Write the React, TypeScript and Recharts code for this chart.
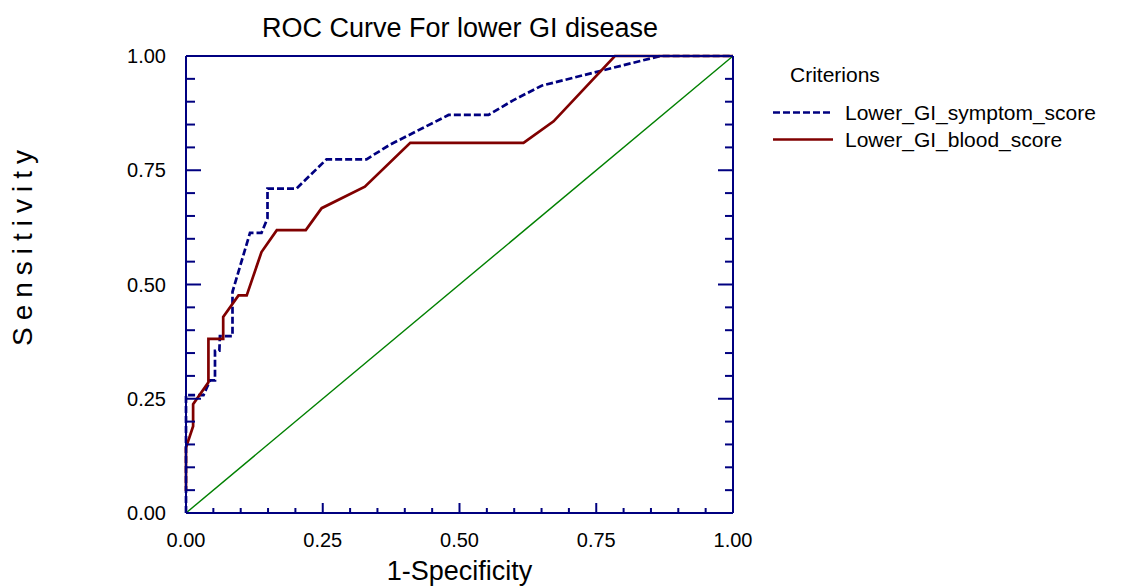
import React from 'react';
import { LineChart, Line, XAxis, YAxis, Legend } from 'recharts';

// ROC points: false positive rate (1-specificity) vs sensitivity
const symptomFpr = [0, 0, 0.032, 0.044, 0.053, 0.053, 0.061, 0.062, 0.085, 0.085, 0.117, 0.138, 0.149, 0.149, 0.202, 0.257, 0.33, 0.373, 0.48, 0.553, 0.598, 0.65, 0.76, 0.867, 1];
const symptomTpr = [0, 0.258, 0.258, 0.29, 0.29, 0.355, 0.355, 0.387, 0.387, 0.484, 0.613, 0.613, 0.645, 0.71, 0.71, 0.774, 0.774, 0.806, 0.871, 0.871, 0.903, 0.935, 0.968, 1, 1];

const bloodFpr = [0, 0, 0.013, 0.013, 0.041, 0.041, 0.068, 0.068, 0.096, 0.111, 0.138, 0.166, 0.219, 0.248, 0.327, 0.41, 0.617, 0.672, 0.784, 1];
const bloodTpr = [0.048, 0.143, 0.19, 0.238, 0.286, 0.381, 0.381, 0.429, 0.476, 0.476, 0.571, 0.619, 0.619, 0.667, 0.714, 0.81, 0.81, 0.857, 1, 1];

const chanceFpr = [0, 1];
const chanceTpr = [0, 1];

const seriesNames = ['Lower_GI_symptom_score', 'Lower_GI_blood_score'];
const legendTitle = 'Criterions';

const majorTicks = [0, 0.25, 0.5, 0.75, 1];
const minorTicks = [0, 0.05, 0.1, 0.15, 0.2, 0.25, 0.3, 0.35, 0.4, 0.45, 0.5, 0.55, 0.6, 0.65, 0.7, 0.75, 0.8, 0.85, 0.9, 0.95, 1];
const tickLabels = ['0.00', '0.25', '0.50', '0.75', '1.00'];

const NAVY = '#000080';
const MAROON = '#800000';
const GREEN = '#008000';
const FONT = '"Liberation Sans", Arial, sans-serif';

const toPoints = (xs: number[], ys: number[]) => xs.map((x, i) => ({ x, y: ys[i] }));

const symptomData = toPoints(symptomFpr, symptomTpr);
const bloodData = toPoints(bloodFpr, bloodTpr);
const chanceData = toPoints(chanceFpr, chanceTpr);

const isMajor = (v: number) => majorTicks.some((m) => Math.abs(m - v) < 1e-9);
const labelOf = (v: number) => tickLabels[majorTicks.findIndex((m) => Math.abs(m - v) < 1e-9)];

// tick marks point into the plot; [minor, major] lengths per side
const tickLen: Record<string, [number, number]> = {
  bottom: [5, 10],
  top: [6, 9],
  left: [9, 15],
  right: [8, 15],
};

const makeTick = (side: 'bottom' | 'top' | 'left' | 'right') => (props: any) => {
  const { x, y, payload } = props;
  const v = payload.value as number;
  const major = isMajor(v);
  const len = tickLen[side][major ? 1 : 0];
  let x2 = x;
  let y2 = y;
  if (side === 'bottom') y2 = y - len;
  if (side === 'top') y2 = y + len;
  if (side === 'left') x2 = x + len;
  if (side === 'right') x2 = x - len;
  return (
    <g>
      <line x1={x} y1={y} x2={x2} y2={y2} stroke={NAVY} strokeWidth={2} />
      {major && side === 'bottom' && (
        <text x={x} y={y + 20} dy="0.71em" textAnchor="middle" fontSize={20} fill="#000">
          {labelOf(v)}
        </text>
      )}
      {major && side === 'left' && (
        <text x={x - 20} y={y} dy="0.355em" textAnchor="end" fontSize={20} fill="#000">
          {labelOf(v)}
        </text>
      )}
    </g>
  );
};

const renderYLabel = (props: any) => {
  const vb = props.viewBox || { x: 0, y: 0, width: 0, height: 0 };
  const cx = vb.x + 22;
  const cy = vb.y + vb.height / 2 - 40;
  return (
    <text
      x={cx}
      y={cy}
      transform={`rotate(-90 ${cx} ${cy})`}
      textAnchor="middle"
      dominantBaseline="central"
      fontSize={28}
      letterSpacing={7}
      fill="#000"
    >
      Sensitivity
    </text>
  );
};

const renderLegend = () => (
  <div style={{ fontFamily: FONT, fontSize: 21, color: '#000' }}>
    <div style={{ height: 26, lineHeight: '26px', paddingLeft: 30, marginBottom: 11 }}>{legendTitle}</div>
    {seriesNames.map((name, i) => (
      <div key={name} style={{ height: 27, lineHeight: '27px', display: 'flex', alignItems: 'center' }}>
        <svg width={85} height={27} style={{ flex: 'none' }}>
          <line
            x1={13}
            x2={73}
            y1={13.5}
            y2={13.5}
            stroke={i === 0 ? NAVY : MAROON}
            strokeWidth={2.7}
            strokeDasharray={i === 0 ? '7 3' : undefined}
          />
        </svg>
        <span>{name}</span>
      </div>
    ))}
  </div>
);

const frameLine = { stroke: NAVY, strokeWidth: 2 };

export default function App() {
  return (
    <div style={{ position: 'relative', width: 1123, height: 586, fontFamily: FONT }}>
      <style>{'body{margin:0}'}</style>
      <div
        style={{
          position: 'absolute',
          left: 0,
          top: 12,
          width: 920,
          textAlign: 'center',
          fontSize: 27,
          lineHeight: '32px',
          color: '#000',
          zIndex: 1,
        }}
      >
        ROC Curve For lower GI disease
      </div>
      <LineChart width={1123} height={586} margin={{ top: 56, right: 390, bottom: 0, left: 0 }}>
        <XAxis
          dataKey="x"
          type="number"
          domain={[0, 1]}
          ticks={minorTicks}
          interval={0}
          height={73}
          tickLine={false}
          axisLine={frameLine}
          stroke={NAVY}
          tickSize={0}
          tickMargin={0}
          tick={makeTick('bottom')}
          label={{ value: '1-Specificity', position: 'insideBottom', offset: 6, fill: '#000', fontSize: 27 }}
        />
        <YAxis
          type="number"
          domain={[0, 1]}
          ticks={minorTicks}
          interval={0}
          width={186}
          tickLine={false}
          axisLine={frameLine}
          stroke={NAVY}
          tickSize={0}
          tickMargin={0}
          tick={makeTick('left')}
          label={renderYLabel}
        />
        <XAxis
          xAxisId="top"
          orientation="top"
          mirror
          type="number"
          domain={[0, 1]}
          allowDataOverflow
          ticks={minorTicks}
          interval={0}
          tickLine={false}
          axisLine={frameLine}
          stroke={NAVY}
          tickSize={0}
          tickMargin={0}
          tick={makeTick('top')}
        />
        <YAxis
          yAxisId="right"
          orientation="right"
          mirror
          type="number"
          domain={[0, 1]}
          allowDataOverflow
          ticks={minorTicks}
          interval={0}
          tickLine={false}
          axisLine={frameLine}
          stroke={NAVY}
          tickSize={0}
          tickMargin={0}
          tick={makeTick('right')}
        />

        <Line data={chanceData} dataKey="y" type="linear" stroke={GREEN} strokeWidth={1.4} dot={false}
          activeDot={false} isAnimationActive={false} legendType="none" />
        <Line data={symptomData} dataKey="y" name={seriesNames[0]} type="linear" stroke={NAVY} strokeWidth={2.7}
          strokeDasharray="7 3" dot={false} activeDot={false} isAnimationActive={false} />
        <Line data={bloodData} dataKey="y" name={seriesNames[1]} type="linear" stroke={MAROON} strokeWidth={2.7}
          dot={false} activeDot={false} isAnimationActive={false} />

        <Legend
          content={renderLegend}
          layout="vertical"
          align="center"
          verticalAlign="middle"
          wrapperStyle={{ left: 760, top: 62, width: 363, height: 'auto' }}
        />
      </LineChart>
    </div>
  );
}
